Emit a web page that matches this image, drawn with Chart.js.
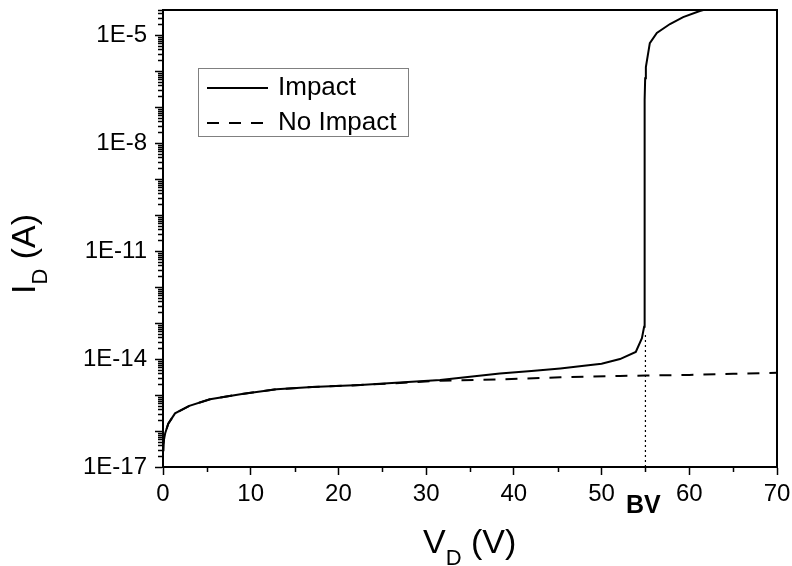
<!DOCTYPE html>
<html>
<head>
<meta charset="utf-8">
<script src="https://cdn.jsdelivr.net/npm/chart.js@4.4.1/dist/chart.umd.min.js"></script>
<style>
  html, body { margin: 0; padding: 0; background: #fff; }
  #wrap { width: 792px; height: 566px; position: relative; }
</style>
</head>
<body>
<div id="wrap"><canvas id="chart" width="792" height="566"></canvas></div>
<script>
// Drain current vs drain voltage, with and without impact ionisation
const voltsImpact = [0, 0.05, 0.12, 0.25, 0.6, 1.37, 3.0, 5.36, 9, 12.96, 17, 22.5, 27, 31.6, 35,
  38.4, 42, 45.3, 48, 50, 52.1, 53.9, 54.6, 54.85, 54.88, 54.9, 54.92, 54.94, 54.97, 55.05,
  55.5, 56.3, 57.8, 59.3, 61.2, 61.6];
const currentImpact = [2.9e-17, 4.2e-17, 6.0e-17, 8.7e-17, 1.6e-16, 3.1e-16, 5.0e-16, 7.6e-16,
  1.07e-15, 1.45e-15, 1.66e-15, 1.9e-15, 2.24e-15, 2.63e-15, 3.2e-15, 3.98e-15, 4.68e-15,
  5.5e-15, 6.46e-15, 7.4e-15, 1.0e-14, 1.58e-14, 3.8e-14, 7.9e-14, 1e-12, 1e-10, 1e-8,
  1.6e-7, 6.3e-7, 1.3e-6, 6.0e-6, 1.15e-5, 2.04e-5, 3.16e-5, 4.7e-5, 5.0e-5];

const voltsNoImpact = [0, 0.05, 0.12, 0.25, 0.6, 1.37, 3.0, 5.36, 9, 12.96, 17, 22.5, 27, 31.6,
  38.4, 45.3, 52.1, 55, 60, 65, 70];
const currentNoImpact = [2.9e-17, 4.2e-17, 6.0e-17, 8.7e-17, 1.6e-16, 3.1e-16, 5.0e-16, 7.6e-16,
  1.07e-15, 1.45e-15, 1.66e-15, 1.9e-15, 2.16e-15, 2.5e-15, 2.72e-15, 3.1e-15, 3.4e-15,
  3.47e-15, 3.63e-15, 3.9e-15, 4.17e-15];

const breakdownVoltage = 55;          // BV
const breakdownMarkerTop = 5e-14;     // where the dotted BV line meets the curve
const xTickValues = [0, 10, 20, 30, 40, 50, 60, 70];
const xMinorTickValues = [5, 15, 25, 35, 45, 55, 65];
const yDecadeExponents = [-17, -16, -15, -14, -13, -12, -11, -10, -9, -8, -7, -6, -5];
const yLabelExponents = [-17, -14, -11, -8, -5];
const yMin = 1e-17, yMax = 5e-5;

const FONT = "'Liberation Sans', Arial, Helvetica, sans-serif";

const toPoints = (xs, ys) => xs.map((v, i) => ({ x: v, y: ys[i] }));

// Minor ticks, plot frame, legend, axis titles with subscripts, BV marker label
const decorations = {
  id: 'decorations',
  afterDraw(chart) {
    const { ctx, chartArea: a, scales } = chart;
    const xs = scales.x, ys = scales.y;
    ctx.save();

    // minor ticks
    ctx.strokeStyle = '#000';
    ctx.lineWidth = 1.5;
    ctx.beginPath();
    yDecadeExponents.forEach(e => {
      for (let m = 2; m <= 9; m++) {
        const v = m * Math.pow(10, e);
        if (v > yMax) continue;
        const py = Math.round(ys.getPixelForValue(v)) + 0.5;
        ctx.moveTo(a.left - 5, py);
        ctx.lineTo(a.left, py);
      }
    });
    xMinorTickValues.forEach(v => {
      const px = Math.round(xs.getPixelForValue(v)) + 0.5;
      ctx.moveTo(px, a.bottom);
      ctx.lineTo(px, a.bottom + 5);
    });
    ctx.stroke();

    // top and right frame
    ctx.lineWidth = 2;
    ctx.beginPath();
    ctx.moveTo(a.left, a.top);
    ctx.lineTo(a.right, a.top);
    ctx.lineTo(a.right, a.bottom);
    ctx.stroke();

    // legend
    ctx.lineWidth = 1;
    ctx.strokeStyle = '#808080';
    ctx.strokeRect(198.5, 68.5, 210, 68);
    const rows = [{ ds: chart.data.datasets[0], y: 88, base: 95 },
                  { ds: chart.data.datasets[1], y: 123, base: 129.5 }];
    rows.forEach(r => {
      ctx.strokeStyle = r.ds.borderColor;
      ctx.lineWidth = r.ds.borderWidth;
      ctx.setLineDash(r.ds.borderDash || []);
      ctx.beginPath();
      ctx.moveTo(207, r.y);
      ctx.lineTo(268, r.y);
      ctx.stroke();
      ctx.setLineDash([]);
      ctx.fillStyle = '#000';
      ctx.font = '26px ' + FONT;
      ctx.textBaseline = 'alphabetic';
      ctx.textAlign = 'left';
      ctx.fillText(r.ds.label, 278, r.base);
    });

    // axis titles: main text, subscript, rest
    const drawTitle = (x, y, parts) => {
      let cx = x;
      parts.forEach(p => {
        ctx.font = p.size + 'px ' + FONT;
        ctx.fillText(p.text, cx, y + (p.dy || 0));
        cx += ctx.measureText(p.text).width;
      });
    };
    ctx.fillStyle = '#000';
    ctx.textAlign = 'left';
    ctx.textBaseline = 'alphabetic';
    drawTitle(423, 553, [{ text: 'V', size: 34 }, { text: 'D', size: 22, dy: 12 }, { text: ' (V)', size: 34 }]);

    ctx.save();
    ctx.translate(35, 294);
    ctx.rotate(-Math.PI / 2);
    drawTitle(0, 0, [{ text: 'I', size: 34 }, { text: 'D', size: 22, dy: 12 }, { text: ' (A)', size: 34 }]);
    ctx.restore();

    // BV label under the dotted marker
    ctx.font = 'bold 25px ' + FONT;
    ctx.textAlign = 'center';
    ctx.fillText('BV', xs.getPixelForValue(breakdownVoltage) - 2, 513);

    ctx.restore();
  }
};

new Chart(document.getElementById('chart'), {
  type: 'line',
  data: {
    datasets: [
      {
        label: 'Impact',
        data: toPoints(voltsImpact, currentImpact),
        borderColor: '#000',
        borderWidth: 2,
        pointRadius: 0,
        tension: 0,
        order: 1
      },
      {
        label: 'No Impact',
        data: toPoints(voltsNoImpact, currentNoImpact),
        borderColor: '#000',
        borderWidth: 2,
        borderDash: [12, 10],
        pointRadius: 0,
        tension: 0,
        order: 2
      },
      {
        label: 'BV',
        data: [{ x: breakdownVoltage, y: yMin }, { x: breakdownVoltage, y: breakdownMarkerTop }],
        borderColor: '#000',
        borderWidth: 1.2,
        borderDash: [2, 3],
        pointRadius: 0,
        order: 3
      }
    ]
  },
  options: {
    responsive: false,
    animation: false,
    events: [],
    layout: { padding: { top: 10, right: 15, left: 0, bottom: 0 } },
    plugins: { legend: { display: false }, tooltip: { enabled: false }, title: { display: false } },
    scales: {
      x: {
        type: 'linear',
        min: 0,
        max: 70,
        afterFit(scale) {
          scale.height = 99;
          scale.paddingLeft = 0;
          scale.paddingRight = 0;
        },
        afterBuildTicks(scale) { scale.ticks = xTickValues.map(v => ({ value: v })); },
        ticks: {
          color: '#000',
          font: { family: FONT, size: 24 },
          padding: 5,
          autoSkip: false,
          maxRotation: 0,
          callback: v => String(v)
        },
        grid: { display: true, drawOnChartArea: false, drawTicks: true, tickLength: 8, tickWidth: 1.5, tickColor: '#000' },
        border: { display: true, color: '#000', width: 2 },
        title: { display: false }
      },
      y: {
        type: 'logarithmic',
        min: yMin,
        max: yMax,
        afterFit(scale) {
          scale.width = 163;
          scale.paddingTop = 0;
          scale.paddingBottom = 0;
        },
        afterBuildTicks(scale) { scale.ticks = yDecadeExponents.map(e => ({ value: Math.pow(10, e) })); },
        ticks: {
          color: '#000',
          font: { family: FONT, size: 24 },
          padding: 8,
          autoSkip: false,
          callback: v => {
            const e = Math.round(Math.log10(v));
            return yLabelExponents.includes(e) ? '1E' + e : '';
          }
        },
        grid: { display: true, drawOnChartArea: false, drawTicks: true, tickLength: 8, tickWidth: 1.5, tickColor: '#000' },
        border: { display: true, color: '#000', width: 2 },
        title: { display: false }
      }
    }
  },
  plugins: [decorations]
});
</script>
</body>
</html>
